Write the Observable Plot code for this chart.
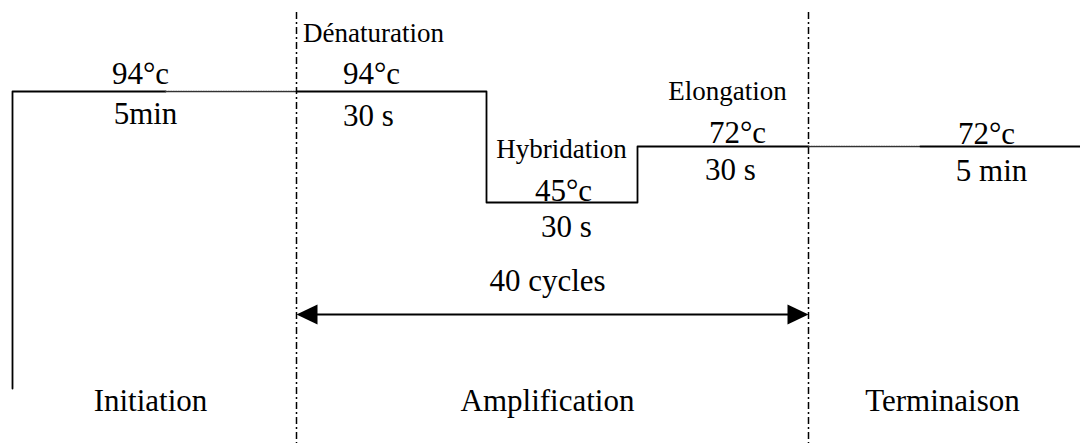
<!DOCTYPE html>
<html>
<head>
<meta charset="utf-8">
<script src="https://cdn.jsdelivr.net/npm/d3@7"></script>
<script src="https://cdn.jsdelivr.net/npm/@observablehq/plot@0.6"></script>
<style>
  html, body { margin: 0; padding: 0; background: #fff; }
  #chart svg { display: block; }
</style>
</head>
<body>
<div id="chart"></div>
<script>
// Schematic PCR thermal profile (positions in diagram units: x = time axis, y = level, downward)
const initX = [12, 12, 165];
const initY = [388, 91, 91];
const initHoldX = [165, 296];
const initHoldY = [91, 91];
const cycleX = [296, 486, 486, 637, 637, 808];
const cycleY = [91, 91, 202, 202, 146, 146];
const finalHoldX = [808, 920];
const finalHoldY = [146, 146];
const finalX = [920, 1080];
const finalY = [146, 146];

// phase boundaries (dash-dot) and the cycle arrow
const phaseBounds = [296, 808];
const boundTop = 12;
const boundBottom = 443;
const arrowY = 314;

// labels
const bigLabels = ["94°c", "5min", "94°c", "30 s", "45°c", "30 s", "72°c", "30 s", "72°c", "5 min", "40 cycles", "Initiation", "Amplification", "Terminaison"];
const bigX = [140, 145, 371, 368, 563, 566, 737, 730, 986, 991, 547, 150, 547, 942];
const bigY = [83, 123, 83, 125, 200, 236, 142, 179, 143, 180, 290, 410, 410, 410];
const stepLabels = ["Dénaturation", "Hybridation", "Elongation"];
const stepX = [373, 561, 727];
const stepY = [41, 157, 99];

const toPts = (xs, ys) => xs.map((x, i) => ({x, y: ys[i]}));

const headLeft = {draw(ctx) { ctx.moveTo(0, 0); ctx.lineTo(21, -10); ctx.lineTo(21, 10); ctx.closePath(); }};
const headRight = {draw(ctx) { ctx.moveTo(0, 0); ctx.lineTo(-21, -10); ctx.lineTo(-21, 10); ctx.closePath(); }};

const font = "Liberation Serif";

const chart = Plot.plot({
  width: 1080,
  height: 443,
  margin: 0,
  style: {background: "#fff", fontFamily: font, color: "#000"},
  x: {domain: [0, 1080], range: [0, 1080], axis: null},
  y: {domain: [0, 443], range: [0, 443], axis: null},
  marks: [
    Plot.ruleX(phaseBounds, {x: d => d, y1: boundTop, y2: boundBottom, stroke: "#000", strokeWidth: 1.5, strokeDasharray: "7,3,2,3"}),
    Plot.line(toPts(initX, initY), {x: "x", y: "y", stroke: "#000", strokeWidth: 1.8}),
    Plot.line(toPts(initHoldX, initHoldY), {x: "x", y: "y", stroke: "#333", strokeWidth: 1.5, strokeDasharray: "1.5,1"}),
    Plot.line(toPts(cycleX, cycleY), {x: "x", y: "y", stroke: "#000", strokeWidth: 1.8}),
    Plot.line(toPts(finalHoldX, finalHoldY), {x: "x", y: "y", stroke: "#333", strokeWidth: 1.5, strokeDasharray: "1.5,1"}),
    Plot.line(toPts(finalX, finalY), {x: "x", y: "y", stroke: "#000", strokeWidth: 1.8}),
    Plot.link([{x1: phaseBounds[0] + 15, x2: phaseBounds[1] - 15, y: arrowY}], {x1: "x1", x2: "x2", y1: "y", y2: "y", stroke: "#000", strokeWidth: 2}),
    Plot.dot([{x: phaseBounds[0], y: arrowY}], {x: "x", y: "y", symbol: headLeft, fill: "#000", stroke: "none", r: 5}),
    Plot.dot([{x: phaseBounds[1], y: arrowY}], {x: "x", y: "y", symbol: headRight, fill: "#000", stroke: "none", r: 5}),
    Plot.text(bigLabels, {x: (d, i) => bigX[i], y: (d, i) => bigY[i], text: d => d, fontSize: 31, fontFamily: font, lineAnchor: "bottom", textAnchor: "middle", fill: "#000"}),
    Plot.text(stepLabels, {x: (d, i) => stepX[i], y: (d, i) => stepY[i], text: d => d, fontSize: 27, fontFamily: font, lineAnchor: "bottom", textAnchor: "middle", fill: "#000"})
  ]
});
document.getElementById("chart").append(chart);
</script>
</body>
</html>
